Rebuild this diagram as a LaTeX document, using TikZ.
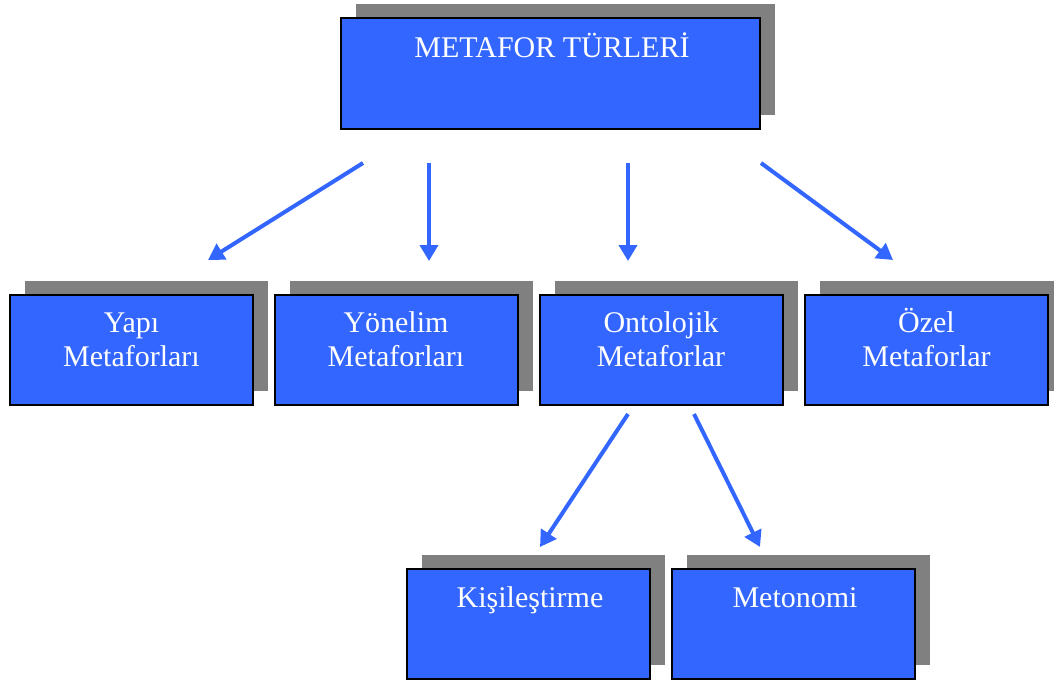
\documentclass[tikz,border=0pt]{standalone}
\usepackage{fontspec}
\setmainfont{Liberation Serif}
\usetikzlibrary{arrows.meta,shadows}
\definecolor{boxblue}{HTML}{3366FF}
\definecolor{shadowgray}{HTML}{808080}
\begin{document}
\begin{tikzpicture}[x=1pt,y=-1pt,
  box/.style={draw=black, line width=2pt, fill=boxblue, inner sep=0pt,
    minimum width=#1, minimum height=110pt,
    copy shadow={shadow xshift=15pt, shadow yshift=14pt, fill=shadowgray, draw=none}},
  box/.default=243pt,
  lbl/.style={text=white, anchor=base, align=center, inner sep=0pt,
    font=\fontsize{30}{34}\selectfont},
  conn/.style={draw=boxblue, line width=4pt, -{Triangle[length=16pt,width=18pt]}}
]
\useasboundingbox (0,0) rectangle (1054,683);

\node[box=419pt, minimum height=111pt] (top) at (550.5,73.5) {};
\node[lbl] (topt) at (552,57) {METAFOR TÜRLERİ};

\node[box] (yapi) at (131.5,350) {};
\node[box] (yonelim) at (396,350) {};
\node[box] (onto) at (661,350) {};
\node[box] (ozel) at (926.5,350) {};
\node[box] (kisi) at (528,624) {};
\node[box] (meto) at (793,624) {};

\node[lbl] (yapit) at (131.5,366) {Yapı\\Metaforları};
\node[lbl] (yonelimt) at (396,366) {Yönelim\\Metaforları};
\node[lbl] (ontot) at (661,366) {Ontolojik\\Metaforlar};
\node[lbl] (ozelt) at (926.5,366) {Özel\\Metaforlar};
\node[lbl] (kisit) at (530,607) {Kişileştirme};
\node[lbl] (metot) at (795,607) {Metonomi};

\coordinate (s1) at (363,163);
\coordinate (e1) at (208,260);
\coordinate (s2) at (429,163);
\coordinate (e2) at (429,261);
\coordinate (s3) at (628,163);
\coordinate (e3) at (628,261);
\coordinate (s4) at (761,163);
\coordinate (e4) at (893,260);
\coordinate (s5) at (628,414);
\coordinate (e5) at (540,547);
\coordinate (s6) at (694,414);
\coordinate (e6) at (760,547);

\draw[conn] (s1) -- (e1);
\draw[conn] (s2) -- (e2);
\draw[conn] (s3) -- (e3);
\draw[conn] (s4) -- (e4);
\draw[conn] (s5) -- (e5);
\draw[conn] (s6) -- (e6);
\end{tikzpicture}
\end{document}
